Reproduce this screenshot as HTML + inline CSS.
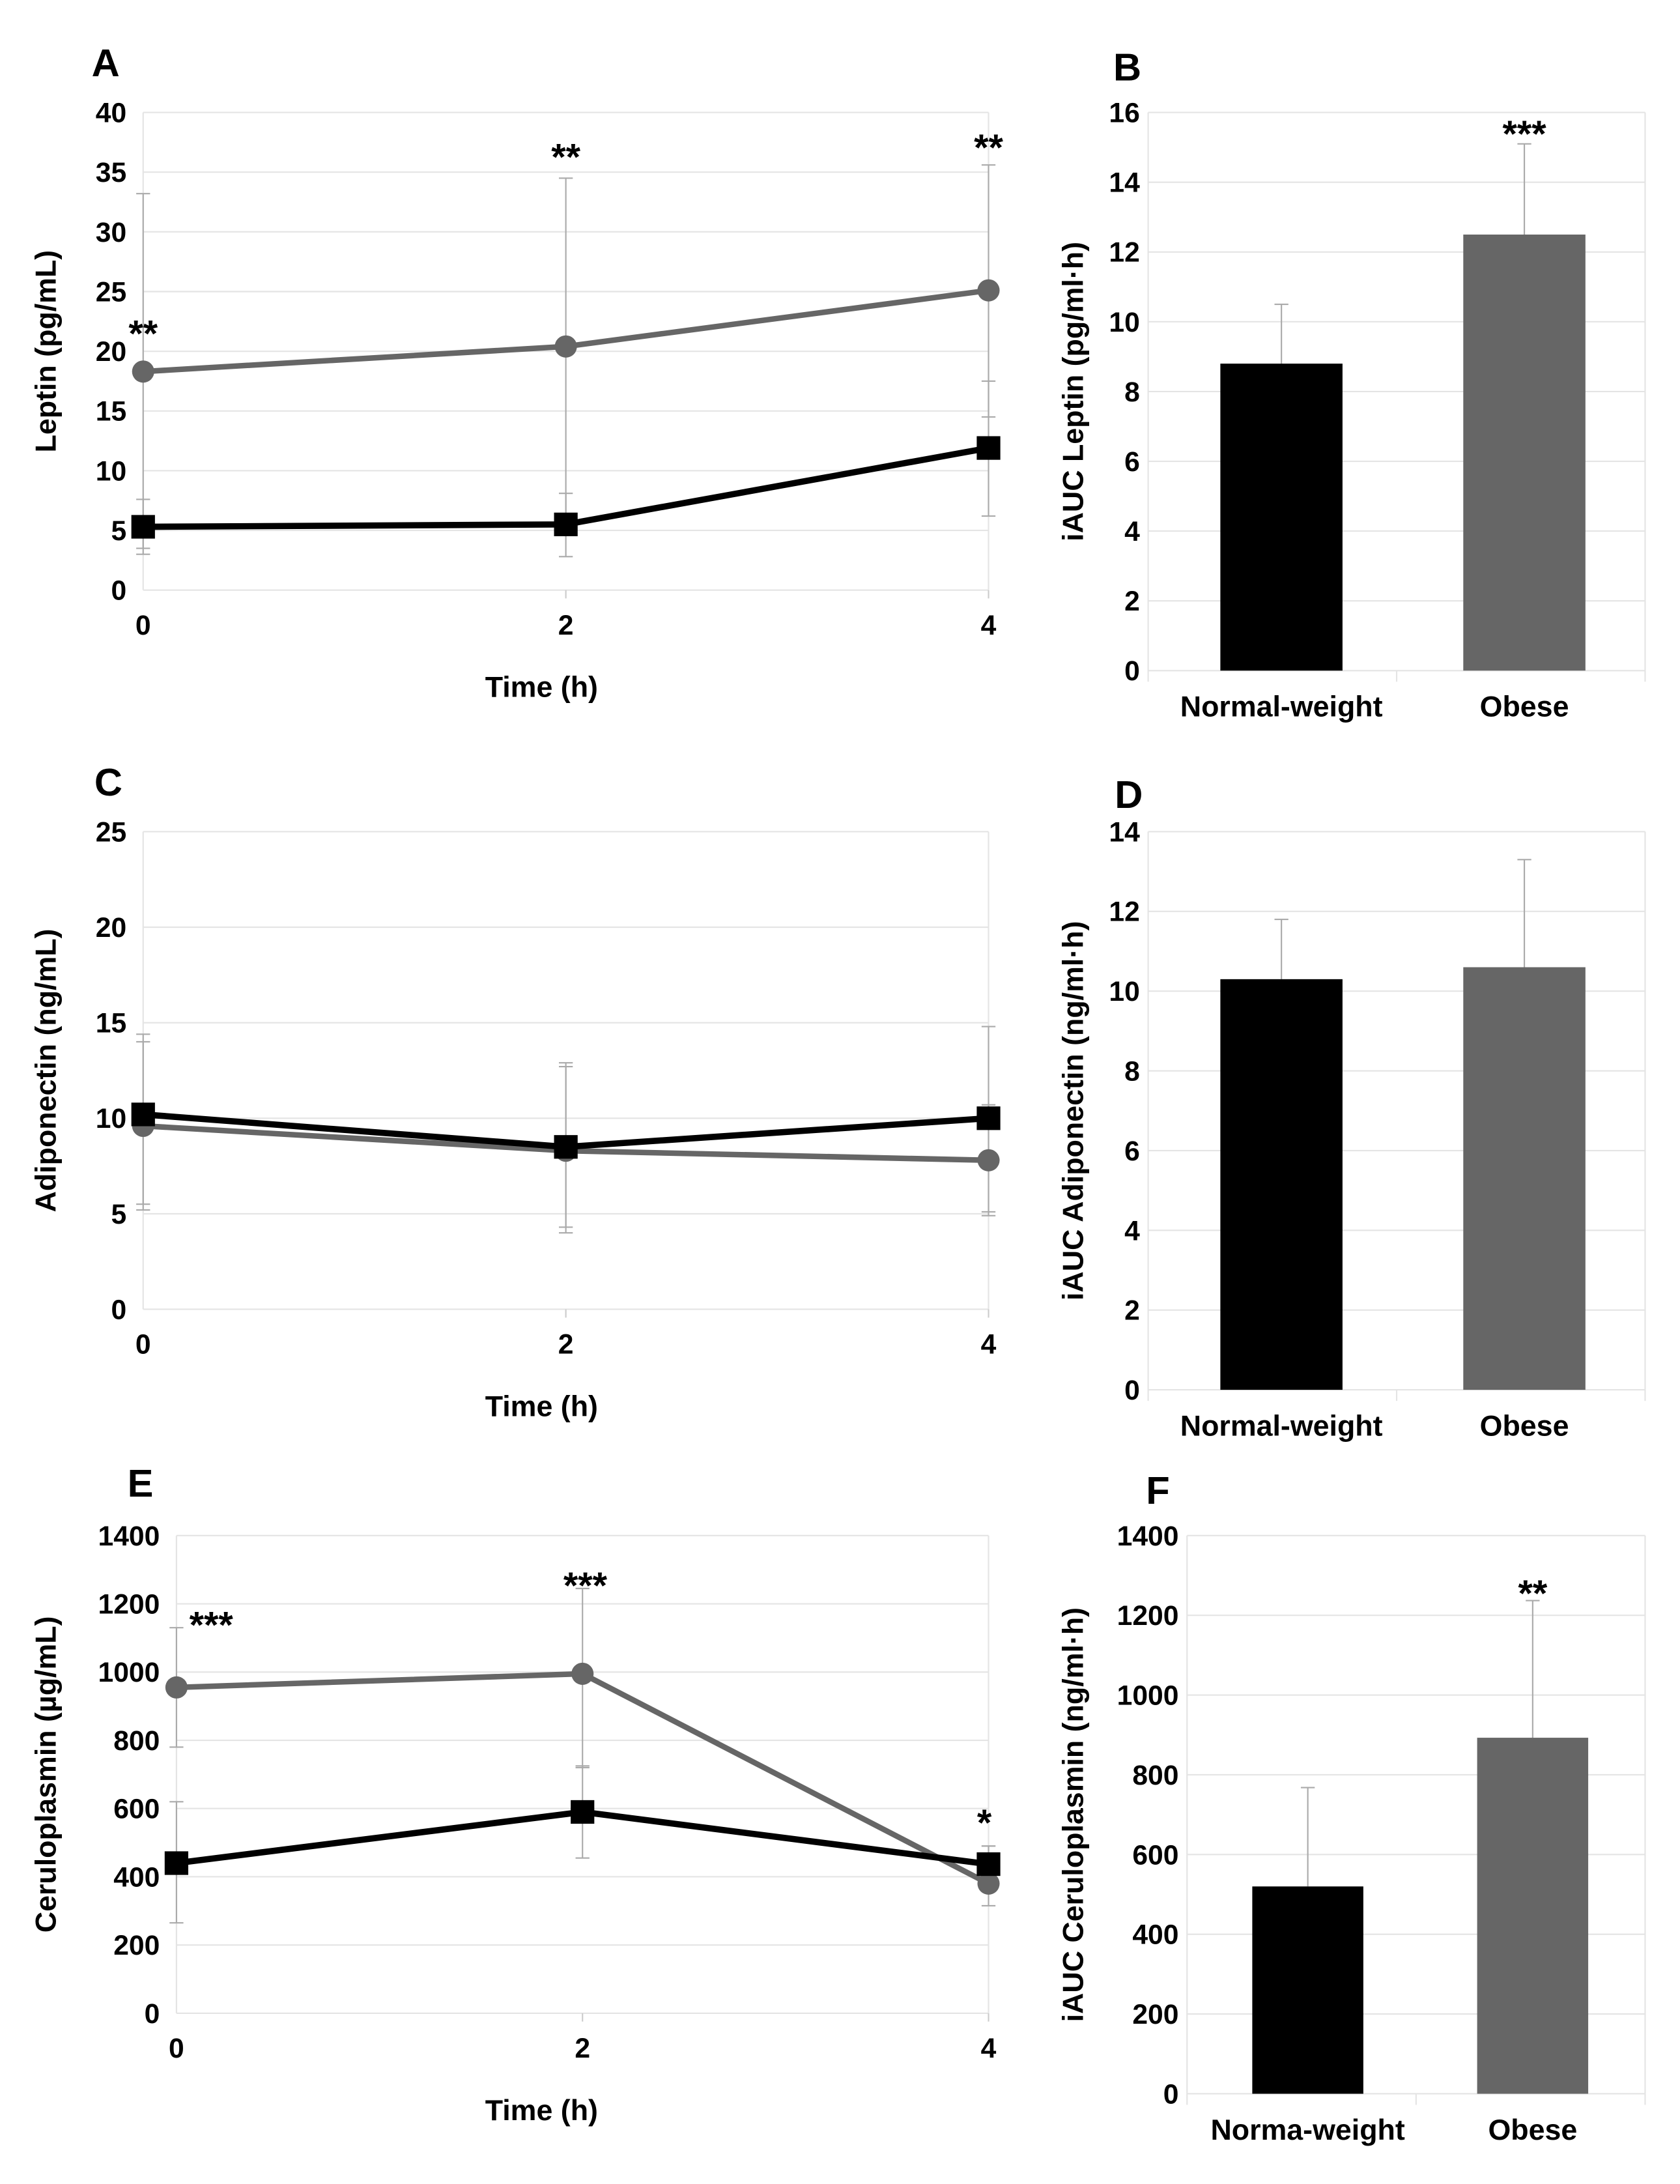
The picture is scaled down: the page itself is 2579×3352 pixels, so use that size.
<!DOCTYPE html>
<html><head><meta charset="utf-8"><style>
html,body{margin:0;padding:0;background:#fff;}
svg{display:block;}
text{font-family:"Liberation Sans",sans-serif;font-weight:bold;fill:#000;}
</style></head><body>
<svg id="fig" width="2579" height="3352" viewBox="0 0 1210 1573" xmlns="http://www.w3.org/2000/svg"></svg>
<script>
// ---- data ----
const timeCats = [0, 2, 4];
const leptinObese = [18.3, 20.4, 25.1];
const leptinObeseHi = [33.2, 34.5, 35.6];
const leptinObeseLo = [3.5, 6.3, 14.5];
const leptinNormal = [5.3, 5.5, 11.9];
const leptinNormalHi = [7.6, 8.1, 17.5];
const leptinNormalLo = [3.0, 2.8, 6.2];
const leptinTicks = [0, 5, 10, 15, 20, 25, 30, 35, 40];
const leptinStars = ["**", "**", "**"];
const leptinStarVals = [21.8, 36.6, 37.4];

const adipoObese = [9.6, 8.3, 7.8];
const adipoObeseHi = [14.0, 12.7, 10.7];
const adipoObeseLo = [5.2, 4.0, 4.9];
const adipoNormal = [10.2, 8.5, 10.0];
const adipoNormalHi = [14.4, 12.9, 14.8];
const adipoNormalLo = [5.5, 4.3, 5.1];
const adipoTicks = [0, 5, 10, 15, 20, 25];

const ceruObese = [955, 995, 380];
const ceruObeseHi = [1130, 1245, 490];
const ceruObeseLo = [780, 720, 315];
const ceruNormal = [440, 590, 437];
const ceruNormalHi = [620, 725, 490];
const ceruNormalLo = [265, 455, 385];
const ceruTicks = [0, 200, 400, 600, 800, 1000, 1200, 1400];
const ceruStars = ["***", "***", "*"];
const ceruStarVals = [1150, 1265, 570];

const groupCats = ["Normal-weight", "Obese"];
const groupCatsF = ["Norma-weight", "Obese"];
const aucLeptin = [8.8, 12.5];
const aucLeptinErr = [10.5, 15.1];
const aucLeptinTicks = [0, 2, 4, 6, 8, 10, 12, 14, 16];
const aucAdipo = [10.3, 10.6];
const aucAdipoErr = [11.8, 13.3];
const aucAdipoTicks = [0, 2, 4, 6, 8, 10, 12, 14];
const aucCeru = [520, 893];
const aucCeruErr = [768, 1237];
const aucCeruTicks = [0, 200, 400, 600, 800, 1000, 1200, 1400];

// ---- helpers ----
const NS = "http://www.w3.org/2000/svg";
const svg = document.getElementById("fig");
function mk(tag, attrs, parent, txt) {
  const e = document.createElementNS(NS, tag);
  for (const k in attrs) e.setAttribute(k, attrs[k]);
  if (txt !== undefined) e.textContent = txt;
  (parent || svg).appendChild(e);
  return e;
}
function lin(d0, d1, r0, r1) { return v => r0 + (v - d0) * (r1 - r0) / (d1 - d0); }

function yAxis(g, ticks, y, left, right, labelX) {
  ticks.forEach(t => {
    const gl = mk("line", {x1: left, x2: right, y1: y(t), y2: y(t), stroke: "#e4e4e4", "stroke-width": 1}, g);
    
    
    const tl = mk("text", {x: labelX, y: y(t) + 7, "text-anchor": "end", "font-size": 20}, g, String(t));
    
    
  });
}
function label(g, x, y, txt, size, name, rot) {
  const t = mk("text", {x: x, y: y, "text-anchor": "middle", "font-size": size}, g, txt);
  if (rot) t.setAttribute("transform", "rotate(-90 " + x + " " + y + ")");
  
  
  return t;
}
function errBar(g, x, hi, lo, capLo, name) {
  const e = mk("g", {}, g);
  
  
  mk("line", {x1: x, x2: x, y1: hi, y2: lo, stroke: "#aaa", "stroke-width": 1}, e);
  mk("line", {x1: x - 5, x2: x + 5, y1: hi, y2: hi, stroke: "#aaa", "stroke-width": 1}, e);
  if (capLo) mk("line", {x1: x - 5, x2: x + 5, y1: lo, y2: lo, stroke: "#aaa", "stroke-width": 1}, e);
}

function linePanel(o) {
  const g = mk("g", {});
  
  
  const x = lin(0, 4, o.x0, o.x1);
  const y = lin(0, o.ticks[o.ticks.length - 1], o.y0, o.y1);
  yAxis(g, o.ticks, y, o.x0, o.x1, o.x0 - 12);
  const ax = mk("line", {x1: o.x0, x2: o.x0, y1: o.y0, y2: o.y1, stroke: "#e4e4e4"}, g);
   
  [2, 4].forEach(v => mk("line", {x1: x(v), x2: x(v), y1: o.y0, y2: o.y0 + 6, stroke: "#ccc"}, g));
  const rb = mk("line", {x1: o.x1, x2: o.x1, y1: o.y0, y2: o.y1, stroke: "#e4e4e4"}, g);
   
  timeCats.forEach(t => {
    const tl = mk("text", {x: x(t), y: o.y0 + 32, "text-anchor": "middle", "font-size": 20}, g, String(t));
    
    
  });
  label(g, 390, o.y0 + 77, "Time (h)", 21, "x-axis-title");
  label(g, 40, (o.y0 + o.y1) / 2, o.title, 21, "y-axis-title", true);
  label(g, o.letterX, o.letterY, o.letter, 28, "panel-label");
  timeCats.forEach((t, i) => {
    errBar(g, x(t), y(o.obHi[i]), y(o.obLo[i]), true, "error-bar-obese");
    errBar(g, x(t), y(o.nHi[i]), y(o.nLo[i]), true, "error-bar-normal");
  });
  const op = mk("polyline", {points: timeCats.map((t, i) => x(t) + "," + y(o.ob[i])).join(" "), fill: "none", stroke: "#666", "stroke-width": 4}, g);
   
  const np = mk("polyline", {points: timeCats.map((t, i) => x(t) + "," + y(o.n[i])).join(" "), fill: "none", stroke: "#000", "stroke-width": 4.5}, g);
   
  timeCats.forEach((t, i) => {
    const c = mk("circle", {cx: x(t), cy: y(o.ob[i]), r: 8, fill: "#666"}, g);
    
    
    const s = mk("rect", {x: x(t) - 8.5, y: y(o.n[i]) - 8.5, width: 17, height: 17, fill: "#000"}, g);
    
    
  });
  if (o.stars) timeCats.forEach((t, i) => {
    const dx = (o.starDx && o.starDx[i]) || 0;
    const st = mk("text", {x: x(t) + dx, y: y(o.starVals[i]) + 12, "text-anchor": "middle", "font-size": 27}, g, o.stars[i]);
    
    
  });
}

function barPanel(o) {
  const g = mk("g", {});
  
  
  const top = o.ticks[o.ticks.length - 1];
  const y = lin(0, top, o.y0, o.y1);
  yAxis(g, o.ticks, y, o.x0, o.x1, o.x0 - 6);
  const mid = (o.x0 + o.x1) / 2;
  [o.x0, mid, o.x1].forEach(xx => {
    const l = mk("line", {x1: xx, x2: xx, y1: o.y0 + 8, y2: xx === mid ? o.y0 : o.y1, stroke: "#e4e4e4"}, g);
     
  });
  const colors = ["#000", "#666"];
  o.vals.forEach((v, i) => {
    const cx = o.centers[i];
    errBar(g, cx, y(o.err[i]), y(v), false, "error-bar");
    const r = mk("rect", {x: cx - o.barW / 2, y: y(v), width: o.barW, height: o.y0 - y(v), fill: colors[i]}, g);
    
    
    const cl = mk("text", {x: cx, y: o.y0 + 33, "text-anchor": "middle", "font-size": 21}, g, o.cats[i]);
    
    
  });
  if (o.star) {
    const st = mk("text", {x: o.centers[1], y: y(o.starVal) + 12, "text-anchor": "middle", "font-size": 27}, g, o.star);
    
    
  }
  label(g, 780, (o.y0 + o.y1) / 2, o.title, 21, "y-axis-title", true);
  label(g, o.letterX, o.letterY, o.letter, 28, "panel-label");
}

linePanel({name: "panel-a-leptin", x0: 103, x1: 712, y0: 425, y1: 81, ticks: leptinTicks,
  ob: leptinObese, obHi: leptinObeseHi, obLo: leptinObeseLo, n: leptinNormal, nHi: leptinNormalHi, nLo: leptinNormalLo,
  title: "Leptin (pg/mL)", letter: "A", letterX: 76, letterY: 55, stars: leptinStars, starVals: leptinStarVals});
linePanel({name: "panel-c-adiponectin", x0: 103, x1: 712, y0: 943, y1: 599, ticks: adipoTicks,
  ob: adipoObese, obHi: adipoObeseHi, obLo: adipoObeseLo, n: adipoNormal, nHi: adipoNormalHi, nLo: adipoNormalLo,
  title: "Adiponectin (ng/mL)", letter: "C", letterX: 78, letterY: 573});
linePanel({name: "panel-e-ceruloplasmin", x0: 127, x1: 712, y0: 1450, y1: 1106, ticks: ceruTicks,
  ob: ceruObese, obHi: ceruObeseHi, obLo: ceruObeseLo, n: ceruNormal, nHi: ceruNormalHi, nLo: ceruNormalLo,
  title: "Ceruloplasmin (µg/mL)", letter: "E", letterX: 101, letterY: 1078, stars: ceruStars, starVals: ceruStarVals, starDx: [25, 2, -3]});

barPanel({name: "panel-b-iauc-leptin", x0: 827, x1: 1185, y0: 483, y1: 81, ticks: aucLeptinTicks, vals: aucLeptin, err: aucLeptinErr,
  cats: groupCats, centers: [923, 1098], barW: 88, title: "iAUC Leptin (pg/ml·h)", letter: "B", letterX: 812, letterY: 58, star: "***", starVal: 15.5});
barPanel({name: "panel-d-iauc-adiponectin", x0: 827, x1: 1185, y0: 1001, y1: 599, ticks: aucAdipoTicks, vals: aucAdipo, err: aucAdipoErr,
  cats: groupCats, centers: [923, 1098], barW: 88, title: "iAUC Adiponectin (ng/ml·h)", letter: "D", letterX: 813, letterY: 582});
barPanel({name: "panel-f-iauc-ceruloplasmin", x0: 855, x1: 1185, y0: 1508, y1: 1106, ticks: aucCeruTicks, vals: aucCeru, err: aucCeruErr,
  cats: groupCatsF, centers: [942, 1104], barW: 80, title: "iAUC Ceruloplasmin (ng/ml·h)", letter: "F", letterX: 834, letterY: 1083, star: "**", starVal: 1265});
</script>
</body></html>
